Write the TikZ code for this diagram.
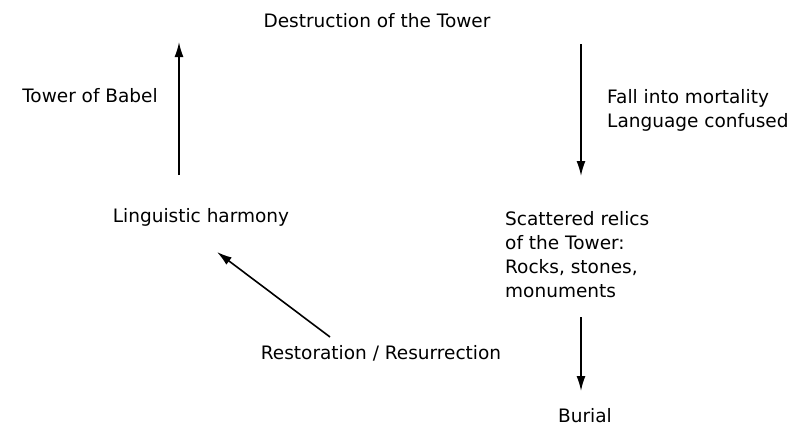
\documentclass[tikz,border=0pt]{standalone}
\usepackage{fontspec}
\setmainfont{DejaVu Sans}
\usetikzlibrary{arrows.meta}
\tikzset{
  lbl/.style={anchor=base, inner sep=0pt, font=\fontsize{18.5}{24}\selectfont},
  lblw/.style={lbl, anchor=base west},
  arr/.style={line width=1.6pt, -{Latex[length=15pt,width=9pt]}}
}
\begin{document}
\begin{tikzpicture}[x=1pt,y=-1pt]
\useasboundingbox (0,0) rectangle (809,426);
\node[lbl] (destr) at (377,27) {Destruction of the Tower};
\node[lbl] (babel) at (90,102) {Tower of Babel};
\node[lbl] (harm) at (201,222) {Linguistic harmony};
\node[lblw] (fall1) at (607,103) {Fall into mortality};
\node[lblw] (fall2) at (607,127) {Language confused};
\node[lblw] (rel1) at (505,225) {Scattered relics};
\node[lblw] (rel2) at (505,249) {of the Tower:};
\node[lblw] (rel3) at (505,273) {Rocks, stones,};
\node[lblw] (rel4) at (505,297) {monuments};
\node[lbl] (resto) at (381,359) {Restoration / Resurrection};
\node[lbl] (burial) at (585,422) {Burial};
\coordinate (a1s) at (179,175); \coordinate (a1e) at (179,42);
\coordinate (a2s) at (581,44);  \coordinate (a2e) at (581,176);
\coordinate (a3s) at (581,317); \coordinate (a3e) at (581,391);
\coordinate (a4s) at (330,337); \coordinate (a4e) at (217,252);
\draw[arr] (a1s) -- (a1e);
\draw[arr] (a2s) -- (a2e);
\draw[arr] (a3s) -- (a3e);
\draw[arr] (a4s) -- (a4e);
\end{tikzpicture}
\end{document}
